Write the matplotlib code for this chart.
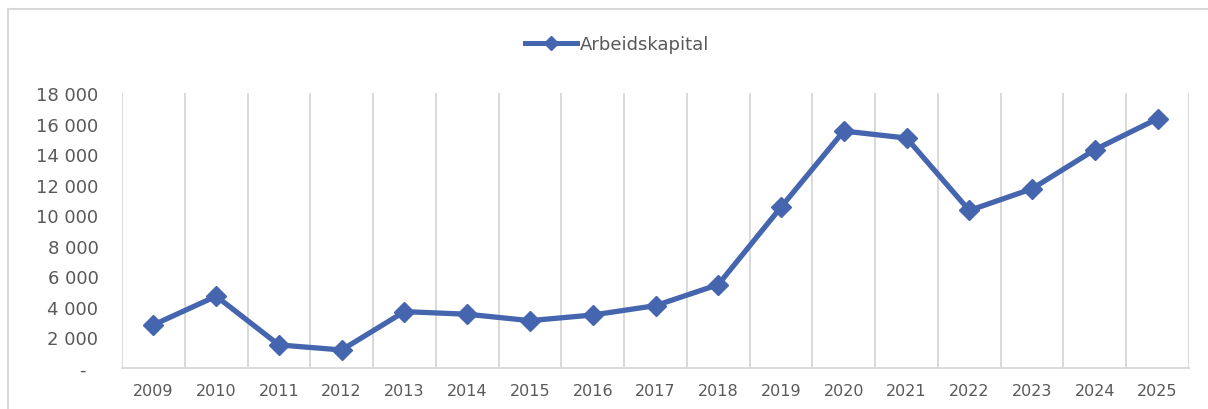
import matplotlib
matplotlib.use("Agg")
import matplotlib.pyplot as plt
from matplotlib.lines import Line2D
import numpy as np

years = ["2009", "2010", "2011", "2012", "2013", "2014", "2015", "2016", "2017",
         "2018", "2019", "2020", "2021", "2022", "2023", "2024", "2025"]
arbeidskapital = [2820, 4700, 1510, 1180, 3690, 3520, 3100, 3470, 4080,
                  5460, 10530, 15510, 15050, 10310, 11730, 14290, 16320]
y_ticks = [0, 2000, 4000, 6000, 8000, 10000, 12000, 14000, 16000, 18000]
y_ticklabels = ["-  ", "2 000", "4 000", "6 000", "8 000", "10 000", "12 000",
                "14 000", "16 000", "18 000"]
series_name = "Arbeidskapital"

W, H = 1208, 410
fig = plt.figure(figsize=(W / 100, H / 100), dpi=100)
fig.patch.set_facecolor("white")

L, R, T, B = 122, 1189, 94, 369
ax = fig.add_axes([L / W, 1 - B / H, (R - L) / W, (B - T) / H])

color = "#4565AE"
grid_c = "#D9D9D9"
text_c = "#595959"

x = np.arange(len(years))
ax.plot(x, arbeidskapital, color=color, lw=3.8, marker="D", ms=10.5,
        markeredgecolor=color, markerfacecolor=color, zorder=3,
        solid_joinstyle="round")

ax.set_xlim(-0.5, len(years) - 0.5)
ax.set_ylim(0, 18000)

# vertical gridlines at category boundaries
for b in np.arange(-0.5, len(years), 1.0):
    ax.axvline(b, color=grid_c, lw=1.4, zorder=1)

for s in ["top", "right", "left"]:
    ax.spines[s].set_visible(False)
ax.spines["bottom"].set_color(grid_c)
ax.spines["bottom"].set_linewidth(1.4)

ax.set_yticks(y_ticks)
ax.set_yticklabels(y_ticklabels)
ax.set_xticks(x)
ax.set_xticklabels(years)
ax.tick_params(axis="y", length=0, pad=17, labelsize=13, labelcolor=text_c)
ax.tick_params(axis="x", length=0, pad=11, labelsize=11.5, labelcolor=text_c)

# chart border (left and top visible)
fig.add_artist(Line2D([8 / W, 8 / W], [0, 1 - 10 / H], transform=fig.transFigure,
                      color=grid_c, lw=1.5))
fig.add_artist(Line2D([8 / W, 1], [1 - 10 / H, 1 - 10 / H], transform=fig.transFigure,
                      color=grid_c, lw=1.5))

handle = Line2D([], [], color=color, lw=3.6, marker="D", ms=7,
                markerfacecolor=color, markeredgecolor=color)
leg = fig.legend([handle], [series_name], loc="center",
                 bbox_to_anchor=(617 / W, 1 - 45 / H), frameon=False,
                 fontsize=13, handlelength=2.9, handletextpad=0.15)
for t in leg.get_texts():
    t.set_color(text_c)

fig.savefig("out.png", dpi=100, facecolor="white")
